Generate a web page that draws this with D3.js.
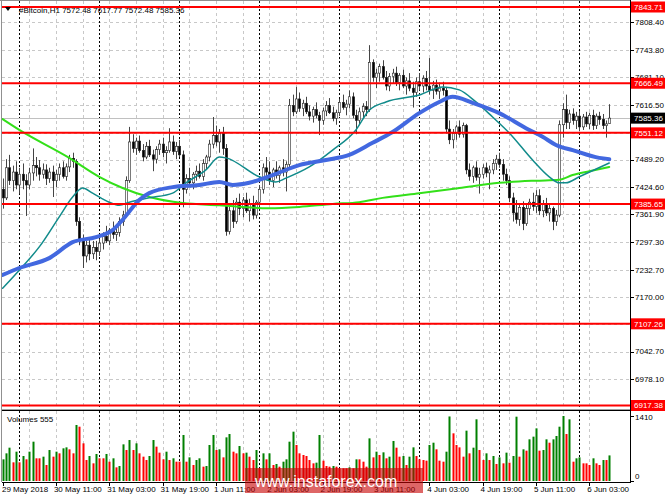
<!DOCTYPE html>
<html><head><meta charset="utf-8">
<script src="https://cdn.jsdelivr.net/npm/d3@7"></script>
<style>body{margin:0;background:#fff;} svg{display:block;font-family:"Liberation Sans",Arial,sans-serif;}</style>
</head><body><svg id="c" width="665" height="499"></svg>
<script>
// ---------------- DATA ----------------
const symbol = "#Bitcoin,H1";
const lastOHLC = [7572.48, 7617.77, 7572.48, 7585.36];
const currentPrice = 7585.36;
const opens = [7420,7400,7470,7440,7460,7430,7455,7440,7430,7458,7475,7470,7455,7465,7445,7460,7440,7455,7470,7450,
7472,7492,7485,7345,7300,7265,7290,7270,7285,7275,7295,7310,7300,7325,7315,7320,7345,7360,7440,7530,
7515,7532,7510,7495,7520,7500,7490,7512,7525,7505,7510,7530,7508,7520,7500,7420,7445,7435,7455,7462,
7450,7480,7495,7525,7545,7530,7550,7515,7322,7370,7345,7390,7375,7395,7370,7385,7360,7390,7420,7470,
7460,7440,7465,7452,7470,7460,7478,7615,7600,7630,7608,7620,7600,7590,7605,7592,7580,7602,7615,7598,
7585,7598,7622,7610,7618,7635,7592,7580,7600,7612,7605,7715,7680,7690,7705,7680,7660,7682,7690,7668,
7685,7660,7672,7655,7645,7670,7660,7678,7660,7650,7662,7648,7655,7650,7560,7535,7550,7565,7548,7568,
7465,7450,7470,7448,7455,7470,7458,7465,7480,7490,7478,7455,7440,7400,7365,7350,7378,7340,7375,7390,
7380,7405,7370,7385,7365,7375,7345,7360,7570,7605,7575,7595,7580,7590,7565,7588,7572,7592,7568,7590,
7582,7568,7572.48];
const highs = [7445,7490,7500,7475,7485,7470,7480,7455,7470,7515,7495,7488,7480,7478,7470,7475,7465,7480,7485,7480,
7500,7505,7490,7355,7315,7300,7305,7300,7300,7305,7320,7335,7330,7345,7330,7355,7370,7450,7565,7548,
7540,7545,7525,7530,7535,7512,7520,7535,7540,7520,7562,7545,7530,7535,7510,7455,7470,7460,7475,7480,
7490,7500,7535,7588,7568,7560,7565,7525,7380,7395,7400,7410,7402,7412,7398,7405,7395,7430,7480,7495,
7485,7470,7485,7475,7490,7485,7630,7640,7658,7645,7628,7635,7615,7612,7622,7600,7610,7625,7632,7612,
7605,7630,7640,7628,7650,7645,7605,7610,7620,7625,7755,7722,7700,7712,7720,7695,7690,7700,7705,7690,
7698,7680,7690,7670,7680,7690,7685,7695,7725,7672,7675,7668,7670,7658,7580,7560,7570,7580,7575,7572,
7480,7475,7485,7470,7478,7482,7475,7490,7500,7505,7490,7468,7450,7412,7395,7385,7392,7385,7398,7412,
7418,7420,7395,7400,7385,7380,7372,7580,7620,7640,7605,7608,7600,7602,7595,7600,7598,7605,7596,7600,
7595,7580,7617.77];
const lows = [7375,7395,7430,7415,7420,7410,7420,7358,7420,7440,7450,7440,7445,7430,7435,7402,7425,7440,7445,7440,
7460,7470,7335,7290,7237,7250,7255,7258,7255,7265,7280,7295,7290,7305,7300,7310,7335,7355,7435,7505,
7500,7505,7485,7490,7495,7462,7480,7500,7495,7480,7505,7500,7490,7495,7378,7410,7430,7420,7440,7445,
7440,7465,7485,7515,7520,7505,7500,7312,7315,7330,7340,7360,7355,7365,7345,7350,7352,7380,7410,7445,
7430,7425,7445,7435,7450,7415,7470,7590,7595,7600,7590,7595,7580,7575,7585,7546,7570,7590,7595,7578,
7570,7590,7605,7592,7608,7585,7548,7570,7585,7590,7600,7670,7655,7670,7675,7650,7648,7665,7660,7650,
7655,7640,7648,7610,7635,7650,7645,7650,7640,7630,7640,7630,7638,7550,7525,7515,7535,7540,7540,7455,
7440,7435,7440,7410,7445,7448,7420,7455,7465,7470,7440,7430,7390,7345,7340,7335,7325,7335,7360,7370,
7365,7360,7355,7358,7345,7325,7335,7355,7540,7560,7560,7570,7560,7555,7558,7565,7560,7558,7560,7570,
7560,7540,7572.48];
const closes = [7400,7470,7440,7460,7430,7455,7440,7430,7458,7475,7470,7455,7465,7445,7460,7440,7455,7470,7450,7472,
7492,7485,7345,7300,7265,7290,7270,7285,7275,7295,7310,7300,7325,7315,7320,7345,7360,7440,7530,7515,
7532,7510,7495,7520,7500,7490,7512,7525,7505,7510,7530,7508,7520,7500,7420,7445,7435,7455,7462,7450,
7480,7495,7525,7545,7530,7550,7515,7322,7370,7345,7390,7375,7395,7370,7385,7360,7390,7420,7470,7460,
7440,7465,7452,7470,7460,7478,7615,7600,7630,7608,7620,7600,7590,7605,7592,7580,7602,7615,7598,7585,
7598,7622,7610,7618,7635,7592,7580,7600,7612,7605,7715,7680,7690,7705,7680,7660,7682,7690,7668,7685,
7660,7672,7655,7645,7670,7660,7678,7660,7650,7662,7648,7655,7650,7560,7535,7550,7565,7548,7568,7465,
7450,7470,7448,7455,7470,7458,7465,7480,7490,7478,7455,7440,7400,7365,7350,7378,7340,7375,7390,7380,
7405,7370,7385,7365,7375,7345,7360,7570,7605,7575,7595,7580,7590,7565,7588,7572,7592,7568,7590,7582,
7568,7572,7585.36];
const volumes = [470,600,723,405,636,405,542,470,636,853,492,492,528,347,672,528,636,600,709,730,
687,600,1215,1178,817,455,542,383,586,492,492,586,419,492,296,325,795,672,889,672,
817,600,528,455,542,889,745,615,470,636,455,492,419,419,998,419,513,347,455,492,
311,325,781,998,672,687,513,947,1019,636,600,759,600,615,528,455,672,275,600,470,
600,347,369,311,419,470,853,1070,781,600,564,542,455,383,398,998,441,325,311,325,
311,275,275,275,296,275,470,470,419,311,925,513,636,564,622,492,528,868,723,528,
542,347,528,730,542,470,455,441,781,831,687,441,419,636,1400,1034,781,730,528,1092,
600,723,1338,672,455,600,455,542,369,513,383,615,398,542,1395,528,687,658,904,962,
1142,658,672,904,831,904,976,1178,1410,1019,1338,419,492,513,383,383,347,492,383,347,
455,455,555];
// moving averages at selected bars
const tealBars = [0,5,11,17,21,24,27,32,35,38,44,51,55,61,65,67,77,82,85,92,99,106,110,115,125,132,137,142,147,152,159,164,167,169,173,182];
const tealVals = [7190,7232,7286,7356,7402,7423,7411,7390,7383,7390,7400,7411,7435,7465,7495,7493,7449,7437,7446,7472,7511,7558,7604,7623,7639,7658,7651,7623,7588,7551,7488,7449,7435,7435,7449,7481];
const blueBars = [0,5,14,21,28,33,36,41,44,51,59,65,69,74,81,89,97,104,111,117,125,131,135,141,149,157,162,166,171,179,182];
const blueVals = [7221,7237,7260,7297,7309,7325,7349,7395,7411,7425,7430,7437,7430,7435,7453,7476,7488,7500,7528,7553,7597,7623,7635,7621,7597,7562,7542,7523,7511,7493,7490];
const greenBars = [0,5,20,29,36,44,54,65,80,89,99,107,114,125,137,149,160,167,171,176,182];
const greenVals = [7583,7558,7493,7449,7423,7402,7388,7383,7376,7379,7386,7390,7400,7411,7423,7435,7440,7442,7453,7462,7472];
const levels = [7843.71, 7666.49, 7551.12, 7385.65, 7107.26, 6917.38];
const priceTicks = [7808.40,7743.80,7681.10,7616.50,7551.90,7489.20,7424.60,7361.90,7297.30,7232.70,7170.00,7107.30,7042.70,6978.10];
const volTicks = [1410, 0];
const gridBars = [8,16,24,32,40,48,56,64,72,80,88,96,104,112,120,128,136,144,152,160,168,176];
const daySeparators = [5,29,53,77,101,125,149,173];
const labelBars = [0,16,32,48,64,80,96,112,128,144,160,176];
const labelTexts = ["29 May 2018","30 May 11:00","31 May 03:00","31 May 19:00","1 Jun 11:00","2 Jun 03:00","2 Jun 19:00","3 Jun 11:00","4 Jun 03:00","4 Jun 19:00","5 Jun 11:00","6 Jun 03:00"];

// ---------------- LAYOUT ----------------
const L = 2, R = 630, mainTop = 1, mainBot = 409, volTop = 411, volBot = 482;
const n = closes.length;
const svg = d3.select("#c");
const x = d3.scaleLinear().domain([0, n]).range([2.6, 2.6 + n * 3.3333]);
const y = d3.scaleLinear().domain([6917.38, 7843.71]).range([405.5, 7]);
const yv = d3.scaleLinear().domain([0, 1410]).range([481, 416]);
const FS = 8;

svg.append("rect").attr("width", 665).attr("height", 499).attr("fill", "#fff");
svg.append("clipPath").attr("id", "cm").append("rect").attr("x", L).attr("y", mainTop).attr("width", R - L).attr("height", mainBot - mainTop);
svg.append("clipPath").attr("id", "cv").append("rect").attr("x", L).attr("y", volTop).attr("width", R - L).attr("height", volBot - volTop);

const gm = svg.append("g").attr("clip-path", "url(#cm)");
const gv = svg.append("g").attr("clip-path", "url(#cv)");

// grids
gm.selectAll(".hg").data(priceTicks).join("line")
  .attr("x1", L).attr("x2", R).attr("y1", d => Math.round(y(d)) + 0.5).attr("y2", d => Math.round(y(d)) + 0.5)
  .attr("stroke", "#c8c8c8").attr("stroke-dasharray", "3,3");
[gm, gv].forEach((g, k) => {
  const t = k === 0 ? mainTop : volTop, b = k === 0 ? mainBot : volBot;
  g.selectAll(".vg").data(gridBars).join("line")
    .attr("x1", d => Math.round(x(d)) + 0.5).attr("x2", d => Math.round(x(d)) + 0.5).attr("y1", t).attr("y2", b)
    .attr("stroke", "#c8c8c8").attr("stroke-dasharray", "3,3");
  g.selectAll(".ds").data(daySeparators).join("line")
    .attr("x1", d => Math.round(x(d)) + 0.5).attr("x2", d => Math.round(x(d)) + 0.5).attr("y1", t).attr("y2", b)
    .attr("stroke", "#000").attr("stroke-dasharray", "2,2");
});

// current price line
gm.append("line").attr("x1", L).attr("x2", R).attr("y1", Math.round(y(currentPrice)) + 0.5).attr("y2", Math.round(y(currentPrice)) + 0.5)
  .attr("stroke", "#c0c0c0");

// candles
const idx = d3.range(n);
gm.selectAll(".wk").data(idx).join("line")
  .attr("x1", i => Math.round(x(i)) + 0.5).attr("x2", i => Math.round(x(i)) + 0.5)
  .attr("y1", i => y(highs[i])).attr("y2", i => y(lows[i]))
  .attr("stroke", "#444").attr("stroke-width", 1);
gm.selectAll(".bd").data(idx).join("rect")
  .attr("x", i => Math.round(x(i)) - 0.7).attr("width", 2.4)
  .attr("y", i => y(Math.max(opens[i], closes[i])))
  .attr("height", i => Math.max(1, Math.abs(y(opens[i]) - y(closes[i]))))
  .attr("fill", i => closes[i] >= opens[i] ? "#fff" : "#000")
  .attr("stroke", "#222").attr("stroke-width", 0.6);

// moving averages
const line = d3.line().curve(d3.curveMonotoneX);
function ma(bars, vals, color, w) {
  gm.append("path").attr("d", line(bars.map((b, k) => [x(b), y(vals[k])])))
    .attr("fill", "none").attr("stroke", color).attr("stroke-width", w).attr("stroke-linecap", "round");
}
ma(greenBars, greenVals, "#33e019", 2);
ma(tealBars, tealVals, "#118b8b", 1.5);
ma(blueBars, blueVals, "#4268e0", 4);

// red levels
gm.selectAll(".lv").data(levels).join("line")
  .attr("x1", L).attr("x2", R).attr("y1", d => y(d)).attr("y2", d => y(d))
  .attr("stroke", "#ff0000").attr("stroke-width", 2);

// volumes
gv.selectAll(".vb").data(idx).join("rect")
  .attr("x", i => Math.round(x(i)) - 0.5).attr("width", 2)
  .attr("y", i => yv(volumes[i])).attr("height", i => yv(0) - yv(volumes[i]))
  .attr("fill", i => (i > 0 && volumes[i] > volumes[i - 1]) || i === 0 ? "#008000" : "#ff0000");

// frames
svg.append("line").attr("x1", 1.5).attr("x2", 1.5).attr("y1", 0).attr("y2", volBot).attr("stroke", "#909090").attr("stroke-width", 1);
svg.append("line").attr("x1", 0).attr("x2", R).attr("y1", 0.5).attr("y2", 0.5).attr("stroke", "#909090");
svg.append("line").attr("x1", R + 0.5).attr("x2", R + 0.5).attr("y1", 0).attr("y2", volBot + 0.5).attr("stroke", "#000");
svg.append("line").attr("x1", L).attr("x2", R).attr("y1", mainBot + 0.5).attr("y2", mainBot + 0.5).attr("stroke", "#a0a0a0");
svg.append("line").attr("x1", L).attr("x2", R).attr("y1", volTop - 0.5).attr("y2", volTop - 0.5).attr("stroke", "#000");
svg.append("line").attr("x1", L).attr("x2", R + 1).attr("y1", volBot + 0.5).attr("y2", volBot + 0.5).attr("stroke", "#000");

// price axis
svg.selectAll(".pt").data(priceTicks).join("line")
  .attr("x1", R).attr("x2", R + 4).attr("y1", d => Math.round(y(d)) + 0.5).attr("y2", d => Math.round(y(d)) + 0.5).attr("stroke", "#000");
svg.selectAll(".pl").data(priceTicks).join("text")
  .attr("x", 635).attr("y", d => y(d)).attr("dy", "0.35em").attr("font-size", FS).attr("fill", "#000")
  .text(d => d.toFixed(2));
// level boxes
levels.forEach(v => {
  svg.append("rect").attr("x", R + 1).attr("y", y(v) - 5.5).attr("width", 665 - R - 1).attr("height", 11).attr("fill", "#ff0000");
  svg.append("text").attr("x", 634).attr("y", y(v)).attr("dy", "0.35em").attr("font-size", FS).attr("fill", "#fff").text(v.toFixed(2));
});
svg.append("rect").attr("x", R + 1).attr("y", y(currentPrice) - 5.5).attr("width", 665 - R - 1).attr("height", 11).attr("fill", "#000");
svg.append("text").attr("x", 634).attr("y", y(currentPrice)).attr("dy", "0.35em").attr("font-size", FS).attr("fill", "#fff").text(currentPrice.toFixed(2));

// volume axis
volTicks.forEach(v => {
  svg.append("line").attr("x1", R).attr("x2", R + 4).attr("y1", Math.round(yv(v)) + 0.5).attr("y2", Math.round(yv(v)) + 0.5).attr("stroke", "#000");
  svg.append("text").attr("x", 635).attr("y", v === 0 ? yv(v) - 5 : yv(v) + 1).attr("dy", "0.35em").attr("font-size", FS).text(String(v));
});

// time axis
svg.selectAll(".xt").data(labelBars).join("line")
  .attr("x1", i => Math.round(x(i)) + 0.5).attr("x2", i => Math.round(x(i)) + 0.5).attr("y1", volBot).attr("y2", volBot + 4).attr("stroke", "#000");
svg.selectAll(".xl").data(labelBars).join("text")
  .attr("x", (i, k) => Math.max(2, x(i) - 2)).attr("y", 489).attr("dy", "0.35em").attr("font-size", FS)
  .text((i, k) => labelTexts[k]);

// header
svg.append("path").attr("d", "M5,7 L11,7 L8,11 Z").attr("fill", "#000");
svg.append("text").attr("x", 19).attr("y", 10).attr("dy", "0.35em").attr("font-size", FS)
  .text(symbol + "  " + lastOHLC.map(v => v.toFixed(2)).join(" "));
svg.append("text").attr("x", 7).attr("y", 419).attr("dy", "0.35em").attr("font-size", FS)
  .text("Volumes " + volumes[n - 1]);

// watermark
svg.append("rect").attr("x", 245).attr("y", 468).attr("width", 178).attr("height", 25).attr("fill", "#c80000").attr("opacity", 0.6);
svg.append("text").attr("x", 255).attr("y", 487).attr("font-size", 16).attr("fill", "#fff").text("www.instaforex.com");
</script></body></html>
